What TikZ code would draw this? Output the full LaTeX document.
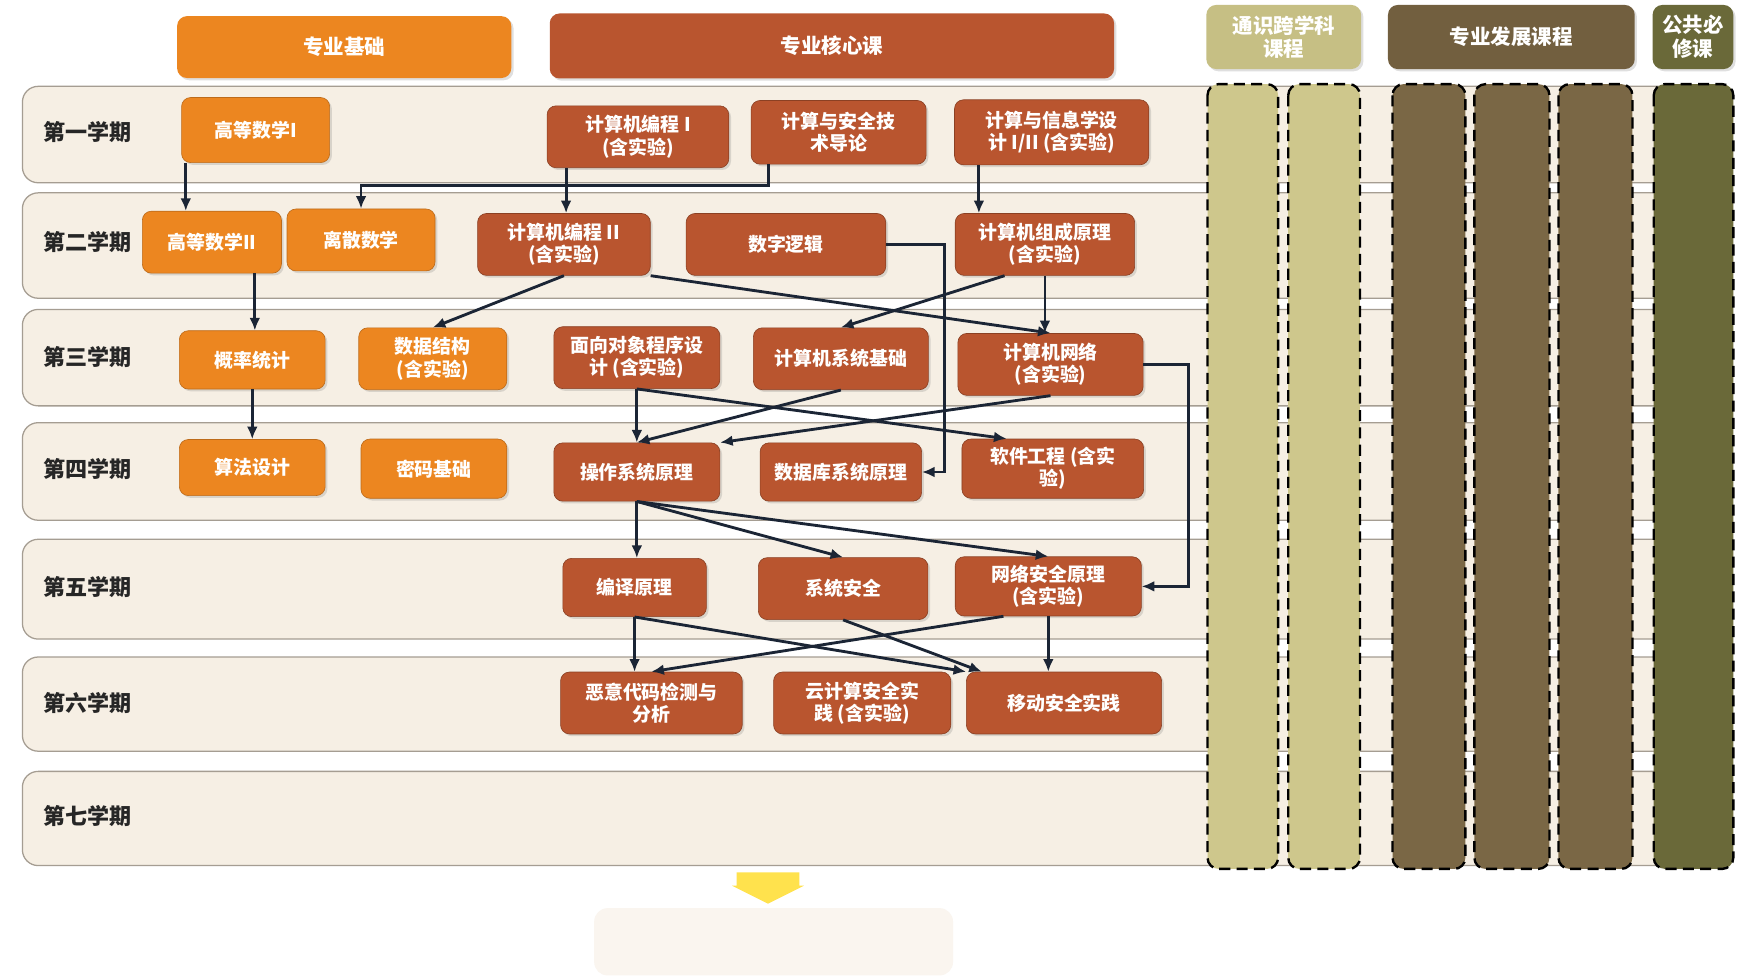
\documentclass[tikz,border=0pt]{standalone}
\usepackage{fontspec}
\setmainfont{Noto Sans CJK SC}
\usetikzlibrary{positioning,arrows.meta,shadows,calc}
\definecolor{jcorange}{HTML}{EC8620}
\definecolor{hxbrown}{HTML}{B9552F}
\definecolor{tskhaki}{HTML}{C6BF84}
\definecolor{tscol}{HTML}{CEC78C}
\definecolor{fzbrown}{HTML}{725F3F}
\definecolor{fzcol}{HTML}{7A6745}
\definecolor{ggolive}{HTML}{6A6939}
\definecolor{bandfill}{HTML}{F6EFE4}
\definecolor{banddraw}{HTML}{A59D92}
\definecolor{arrowcol}{HTML}{1B2535}
\definecolor{tipyellow}{HTML}{FFE24D}
\tikzstyle{head}=[rounded corners=0.22cm,text=white,align=center,inner sep=2pt,font=\bfseries\fontsize{13}{15}\selectfont,drop shadow={opacity=0.25,shadow xshift=0.05cm,shadow yshift=-0.05cm}]
\tikzstyle{jc}=[rounded corners=0.2cm,fill=jcorange,draw=jcorange!80!black,text=white,align=center,inner sep=2pt,minimum height=1.38cm,font=\bfseries\fontsize{12}{14}\selectfont,drop shadow={opacity=0.25,shadow xshift=0.05cm,shadow yshift=-0.05cm}]
\tikzstyle{hx}=[jc,fill=hxbrown,draw=hxbrown!75!black]
\tikzstyle{band}=[rounded corners=0.35cm,fill=bandfill,draw=banddraw,line width=0.8pt]
\tikzstyle{term}=[text=black!85,font=\bfseries\fontsize{14}{16}\selectfont]
\tikzstyle{colbox}=[rounded corners=0.25cm,draw=black,line width=1.5pt,dash pattern=on 7pt off 4pt]
\tikzstyle{link}=[line width=1.8pt,draw=arrowcol,-{Latex[length=0.28cm,width=0.24cm]}]

\begin{document}
\begin{tikzpicture}[x=0.025cm,y=-0.025cm]

      \fill[white] (0,0) rectangle (1568,870);
      \useasboundingbox (0,0) rectangle (1568,870);

      % course groups
      \node[head, fill=jcorange, minimum width=7.45cm, minimum height=1.38cm] (h_jc) at (307,42) {专业基础};
      \node[head, fill=hxbrown, minimum width=12.58cm, minimum height=1.45cm] (h_hx) at (742,41) {专业核心课};
      \node[head, fill=tskhaki, minimum width=3.45cm, minimum height=1.43cm] (h_ts) at (1145,33) {通识跨学科\\课程};
      \node[head, fill=fzbrown, minimum width=5.5cm, minimum height=1.43cm] (h_fz) at (1348,33) {专业发展课程};
      \node[head, fill=ggolive, minimum width=1.8cm, minimum height=1.43cm] (h_gg) at (1510,33) {公共必\\修课};

      % semesters
      \draw[band] (20,77) rectangle (1500,163);
      \draw[band] (20,172) rectangle (1500,266);
      \draw[band] (20,276) rectangle (1500,362);
      \draw[band] (20,377) rectangle (1500,464);
      \draw[band] (20,481) rectangle (1500,570);
      \draw[band] (20,586) rectangle (1500,670);
      \draw[band] (20,688) rectangle (1500,772);

      \node[term] (term_1) at (78,118) {第一学期};
      \node[term] (term_2) at (78,216) {第二学期};
      \node[term] (term_3) at (78,318) {第三学期};
      \node[term] (term_4) at (78,418) {第四学期};
      \node[term] (term_5) at (78,524) {第五学期};
      \node[term] (term_6) at (78,627) {第六学期};
      \node[term] (term_7) at (78,728) {第七学期};

      % elective columns
      \draw[colbox, fill=tscol] (1077,75) rectangle (1140,775);
      \draw[colbox, fill=tscol] (1149,75) rectangle (1213,775);
      \draw[colbox, fill=fzcol] (1242,75) rectangle (1307,775);
      \draw[colbox, fill=fzcol] (1315,75) rectangle (1382,775);
      \draw[colbox, fill=fzcol] (1390,75) rectangle (1456,775);
      \draw[colbox, fill=ggolive] (1475,75) rectangle (1546,775);

      % first semester
      \node[jc, minimum width=3.3cm, minimum height=1.45cm] (gs1) at (228,116) {高等数学I};
      \node[hx, minimum width=4.05cm] (bc1) at (569,122) {计算机编程 I\\(含实验)};
      \node[hx, minimum width=3.9cm, minimum height=1.42cm] (aq) at (748,118) {计算与安全技\\术导论};
      \node[hx, minimum width=4.33cm, minimum height=1.45cm] (xx) at (938,118) {计算与信息学设\\计 I/II (含实验)};

      % second semester
      \node[jc, minimum width=3.1cm] (gs2) at (189,216) {高等数学II};
      \node[jc, minimum width=3.3cm] (ls) at (322,214) {离散数学};
      \node[hx, minimum width=3.85cm] (p2c) at (503,218) {计算机编程 II\\(含实验)};
      \node[hx, minimum width=4.45cm] (p2d) at (701,218) {数字逻辑};
      \node[hx, minimum width=4.0cm] (p2e) at (932,218) {计算机组成原理\\(含实验)};

      % third semester
      \node[jc, minimum width=3.25cm, minimum height=1.3cm] (p3a) at (225,321) {概率统计};
      \node[jc, minimum width=3.3cm] (p3b) at (386,320) {数据结构\\(含实验)};
      \node[hx, minimum width=3.7cm] (p3c) at (568,319) {面向对象程序设\\计 (含实验)};
      \node[hx, minimum width=3.9cm] (p3d) at (750,320) {计算机系统基础};
      \node[hx, minimum width=4.13cm] (p3e) at (937,325) {计算机网络\\(含实验)};

      % fourth semester
      \node[jc, minimum width=3.25cm, minimum height=1.25cm] (p4a) at (225,417) {算法设计};
      \node[jc, minimum width=3.25cm, minimum height=1.32cm] (p4b) at (387,418) {密码基础};
      \node[hx, minimum width=3.7cm, minimum height=1.3cm] (p4c) at (568,421) {操作系统原理};
      \node[hx, minimum width=3.6cm, minimum height=1.3cm] (p4d) at (750,421) {数据库系统原理};
      \node[hx, minimum width=4.05cm, minimum height=1.32cm] (p4e) at (939,418) {软件工程 (含实\\验)};

      % fifth semester
      \node[hx, minimum width=3.2cm, minimum height=1.3cm] (p5c) at (566,524) {编译原理};
      \node[hx, minimum width=3.78cm] (p5d) at (752,525) {系统安全};
      \node[hx, minimum width=4.15cm, minimum height=1.32cm] (p5e) at (935,523) {网络安全原理\\(含实验)};

      % sixth semester
      \node[hx, minimum width=4.05cm] (p6c) at (581,627) {恶意代码检测与\\分析};
      \node[hx, minimum width=3.95cm] (p6d) at (769,627) {云计算安全实\\践 (含实验)};
      \node[hx, minimum width=4.35cm] (p6e) at (949,627) {移动安全实践};

      % after the seventh semester
      \fill[tipyellow] (657,778) -- (713,778) -- (713,790) -- (717,790) -- (685,806) -- (653,790) -- (657,790) -- cycle;
      \node[rounded corners=0.3cm, fill=bandfill!60, minimum width=8cm, minimum height=1.5cm] (grad) at (690,840) {};

      % prerequisites
      \coordinate (gs1_out) at ([xshift=0.1cm]gs1.south west);
      \coordinate (aq_out) at ([xshift=0.4cm]aq.south west);
      \coordinate (bc1_out) at ([xshift=0.43cm]bc1.south west);
      \coordinate (xx_out) at ([xshift=0.55cm]xx.south west);
      \coordinate (gs2_out) at ([xshift=-0.6cm]gs2.south east);
      \coordinate (p2e_out) at ([xshift=-0.9cm]p2e.south);
      \coordinate (p5e_out) at ([xshift=-1cm]p5e.south);

      \draw[link] (gs1_out) -- (gs1_out |- gs2.north);
      \draw[link] (aq_out) |- ([yshift=0.52cm]ls.north) -- (ls.north);
      \draw[link] (bc1_out) -- (bc1_out |- p2c.north);
      \draw[link] (xx_out) -- (xx_out |- p2e.north);

      \draw[link] (gs2_out) -- (gs2_out |- p3a.north);
      \draw[link] (p2c.south) -- (p3b.north);
      \draw[link] (p2c.south east) -- (p3e.north);
      \draw[link] (p2e_out) -- (p3d.north);
      \draw[link] (p2e.south) -- (p2e.south |- p3e.north);
      \draw[link] (p2d.east) -- ([xshift=1.3cm]p2d.east) |- (p4d.east);

      \draw[link] (p3a.south) -- (p4a.north);
      \draw[link] (p3c.south) -- (p4c.north);
      \draw[link] (p3c.south) -- ([xshift=1cm]p4e.north west);
      \draw[link] (p3d.south) -- (p4c.north);
      \draw[link] (p3e.south) -- (p4c.north east);
      \draw[link] (p3e.east) -- ([xshift=1cm]p3e.east) |- (p5e.east);

      \draw[link] (p4c.south) -- (p4c.south |- p5c.north);
      \draw[link] (p4c.south) -- (p5d.north);
      \draw[link] (p4c.south) -- (p5e.north);

      \draw[link] (p5c.south) -- (p5c.south |- p6c.north);
      \draw[link] (p5c.south) -- (p6e.north west);
      \draw[link] (p5d.south) -- ([xshift=0.35cm]p6e.north west);
      \draw[link] (p5e_out) -- (p6c.north);
      \draw[link] (p5e.south) -- (p5e.south |- p6e.north);

\end{tikzpicture}
\end{document}
